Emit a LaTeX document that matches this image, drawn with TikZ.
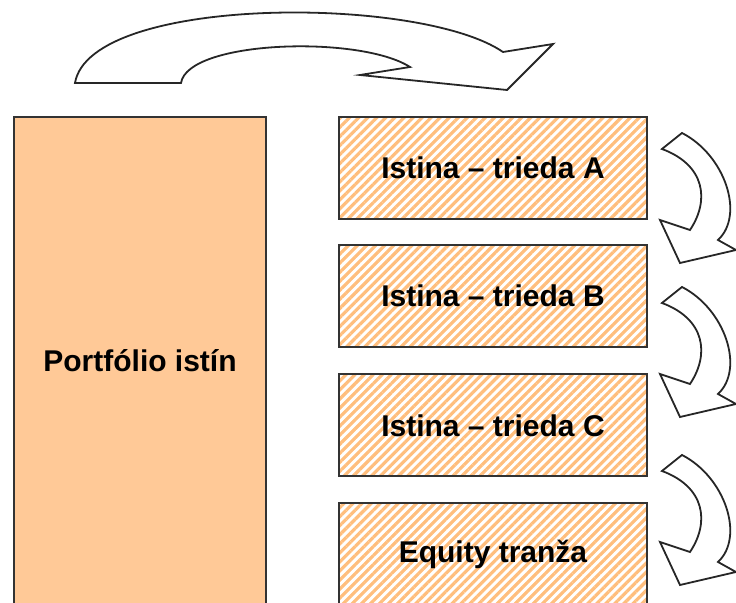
\documentclass[tikz,border=0pt]{standalone}
\usepackage{fontspec}
\setmainfont{Liberation Sans}
\usetikzlibrary{patterns.meta}
\definecolor{pool}{RGB}{255,201,151}
\definecolor{hatch}{RGB}{255,190,125}
\begin{document}
\begin{tikzpicture}[
  x=0.5pt, y=-0.5pt,
  pool/.style={draw=black!80, line width=1pt, fill=pool, minimum width=126pt, minimum height=243.5pt, font=\bfseries\fontsize{15}{18}\selectfont},
  tranche/.style={draw=black!80, line width=1pt, pattern={Lines[angle=45,distance=3.2pt,line width=1.6pt]}, pattern color=hatch, minimum width=154pt, minimum height=51pt, font=\bfseries\fontsize{15}{18}\selectfont},
  blockarrow/.style={draw=black!85, line width=0.9pt, fill=white, line join=miter}
]
\useasboundingbox (0,0) rectangle (736,603);
\clip (0,0) rectangle (736,603);

\node[pool] (portfolio) at (140,360.5) {Portfólio istín};
\node[tranche] (classa) at (493,168) {Istina \textendash{} trieda A};
\node[tranche] (classb) at (493,296) {Istina \textendash{} trieda B};
\node[tranche] (classc) at (493,425.5) {Istina \textendash{} trieda C};
\node[tranche] (equity) at (493,554) {Equity tranža};

% transfer from the pool to the tranches
\draw[blockarrow] (75,83) -- (181,83) .. controls (188,40) and (360,35) .. (410,67)
  -- (360,75) -- (507,90) -- (553,44) -- (503,52)
  .. controls (420,-5) and (90,-5) .. (75,83) -- cycle;

% waterfall between the tranches
\foreach \dy in {0,154,322}
  \draw[blockarrow, shift={(0,\dy)}] (682,133) .. controls (725,155) and (745,215) .. (718,240)
    -- (736,250) -- (680,263) -- (660,220) -- (690,230)
    .. controls (710,200) and (705,165) .. (662,149) -- cycle;
\end{tikzpicture}
\end{document}
